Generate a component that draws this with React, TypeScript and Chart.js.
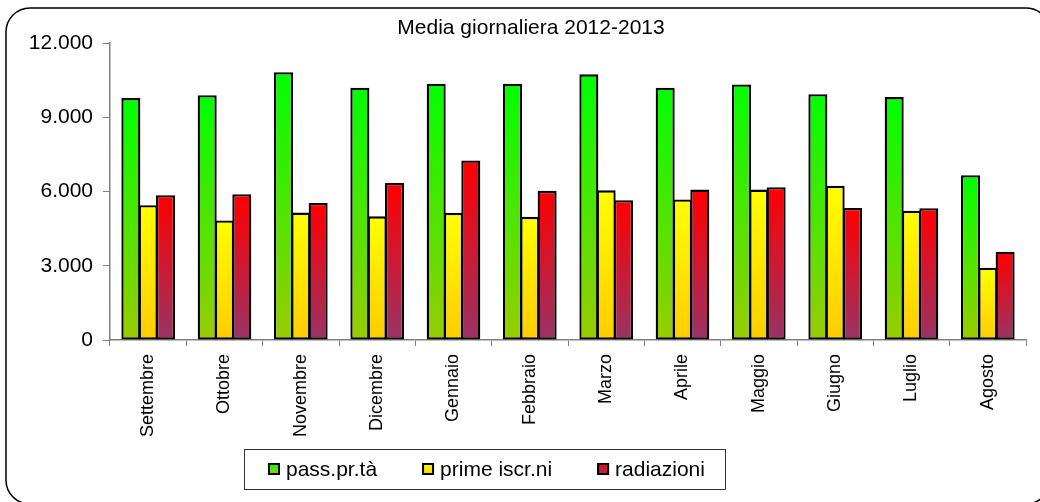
import React, { useEffect, useRef } from "react";
import { Chart, registerables } from "chart.js";

Chart.register(...registerables);

const months = [
  "Settembre", "Ottobre", "Novembre", "Dicembre", "Gennaio", "Febbraio",
  "Marzo", "Aprile", "Maggio", "Giugno", "Luglio", "Agosto",
];
const passPrTa = [9780, 9900, 10830, 10200, 10360, 10360, 10740, 10200, 10330, 9940, 9820, 6660];
const primeIscrNi = [5450, 4830, 5150, 5000, 5140, 4980, 6050, 5680, 6080, 6240, 5230, 2920];
const radiazioni = [5850, 5890, 5540, 6350, 7260, 6030, 5650, 6080, 6180, 5340, 5330, 3570];
const seriesLabels = ["pass.pr.tà", "prime iscr.ni", "radiazioni"];
const yTicks = [0, 3000, 6000, 9000, 12000];
const yTickLabels = ["0", "3.000", "6.000", "9.000", "12.000"];
const title = "Media giornaliera 2012-2013";

const FONT = "'Liberation Sans', Arial, Helvetica, sans-serif";
const gradStops: [string, string][] = [
  ["#00ff00", "#99cc00"],
  ["#ffff00", "#ffcc00"],
  ["#ff0000", "#993366"],
];

function barGradient(index: number) {
  return (ctx: any) => {
    const chart = ctx.chart;
    const [top, bottom] = gradStops[index];
    const y = chart.scales && chart.scales.y;
    if (!y || !chart.chartArea || ctx.type !== "data") return top;
    const yTop = y.getPixelForValue(ctx.raw);
    const yBot = y.getPixelForValue(0);
    if (!isFinite(yTop) || !isFinite(yBot) || yTop === yBot) return top;
    const g = chart.ctx.createLinearGradient(0, yTop, 0, yBot);
    g.addColorStop(0, top);
    g.addColorStop(1, bottom);
    return g;
  };
}

const frameAndLegend = {
  id: "frameAndLegend",
  afterLayout(chart: any) {
    const t = chart.titleBlock;
    if (t) {
      t.left += 8;
      t.right += 8;
    }
  },
  beforeDraw(chart: any) {
    const c = chart.ctx;
    c.save();
    c.fillStyle = "#ffffff";
    c.fillRect(0, 0, chart.width, chart.height);
    c.beginPath();
    (c as any).roundRect(6, 8, 1044, 496, 24);
    c.lineWidth = 1.5;
    c.strokeStyle = "#000000";
    c.stroke();
    c.restore();
  },
  afterDraw(chart: any) {
    const c = chart.ctx;
    c.save();
    // legend frame
    c.strokeStyle = "#333333";
    c.lineWidth = 1;
    c.strokeRect(244.5, 449.5, 481, 40);
    c.font = `21px ${FONT}`;
    c.textBaseline = "middle";
    c.textAlign = "left";
    let x = 268;
    const cy = 469;
    chart.data.datasets.forEach((ds: any, i: number) => {
      const g = c.createLinearGradient(0, cy - 6, 0, cy + 6);
      g.addColorStop(0, gradStops[i][0]);
      g.addColorStop(1, gradStops[i][1]);
      c.fillStyle = g;
      c.fillRect(x, cy - 6, 12, 12);
      c.lineWidth = 2;
      c.strokeStyle = "#000000";
      c.strokeRect(x + 1, cy - 5, 10, 10);
      c.fillStyle = "#000000";
      c.fillText(ds.label, x + 18, cy + 1);
      const w = c.measureText(ds.label).width;
      x += 18 + w + 45;
    });
    c.restore();
  },
};

export default function App() {
  const ref = useRef<HTMLCanvasElement | null>(null);

  useEffect(() => {
    document.body.style.margin = "0";
    const canvas = ref.current;
    if (!canvas) return;
    const seriesData = [passPrTa, primeIscrNi, radiazioni];
    const chart = new Chart(canvas, {
      type: "bar",
      data: {
        labels: months,
        datasets: seriesData.map((d, i) => ({
          label: seriesLabels[i],
          data: d,
          backgroundColor: barGradient(i),
          borderColor: "#000000",
          borderWidth: 2.3,
          borderSkipped: false,
          barPercentage: 1.1,
          categoryPercentage: 0.68,
        })),
      },
      options: {
        responsive: false,
        animation: false,
        devicePixelRatio: 1,
        layout: { padding: { left: 20, right: 14, top: 0, bottom: 62 } },
        plugins: {
          legend: { display: false },
          tooltip: { enabled: false },
          title: {
            display: true,
            text: title,
            color: "#000000",
            font: { family: FONT, size: 21, weight: "normal" },
            padding: { top: 16, bottom: 2 },
          },
        },
        scales: {
          x: {
            grid: {
              display: true,
              drawOnChartArea: false,
              drawTicks: true,
              tickLength: 6,
              color: "#808080",
              offset: true,
            },
            border: { display: true, color: "#808080", width: 1.5 },
            ticks: {
              color: "#000000",
              font: { family: FONT, size: 18 },
              minRotation: 90,
              maxRotation: 90,
              autoSkip: false,
              padding: 8,
            },
            afterFit(scale: any) {
              scale.height = 100;
            },
          },
          y: {
            min: 0,
            max: 12000,
            afterBuildTicks(scale: any) {
              scale.ticks = yTicks.map((v) => ({ value: v }));
            },
            grid: {
              display: true,
              drawOnChartArea: false,
              drawTicks: true,
              tickLength: 7,
              color: "#808080",
            },
            border: { display: true, color: "#808080", width: 1.5 },
            ticks: {
              color: "#000000",
              font: { family: FONT, size: 21 },
              padding: 10,
              callback: (v: any) => {
                const i = yTicks.indexOf(Number(v));
                return i >= 0 ? yTickLabels[i] : "";
              },
            },
            afterFit(scale: any) {
              scale.width = 90;
            },
          },
        },
      },
      plugins: [frameAndLegend],
    });
    return () => chart.destroy();
  }, []);

  return (
    <div style={{ position: "absolute", left: 0, top: 0, width: 1040, height: 502 }}>
      <canvas ref={ref} width={1040} height={502} style={{ width: 1040, height: 502, display: "block" }} />
    </div>
  );
}
